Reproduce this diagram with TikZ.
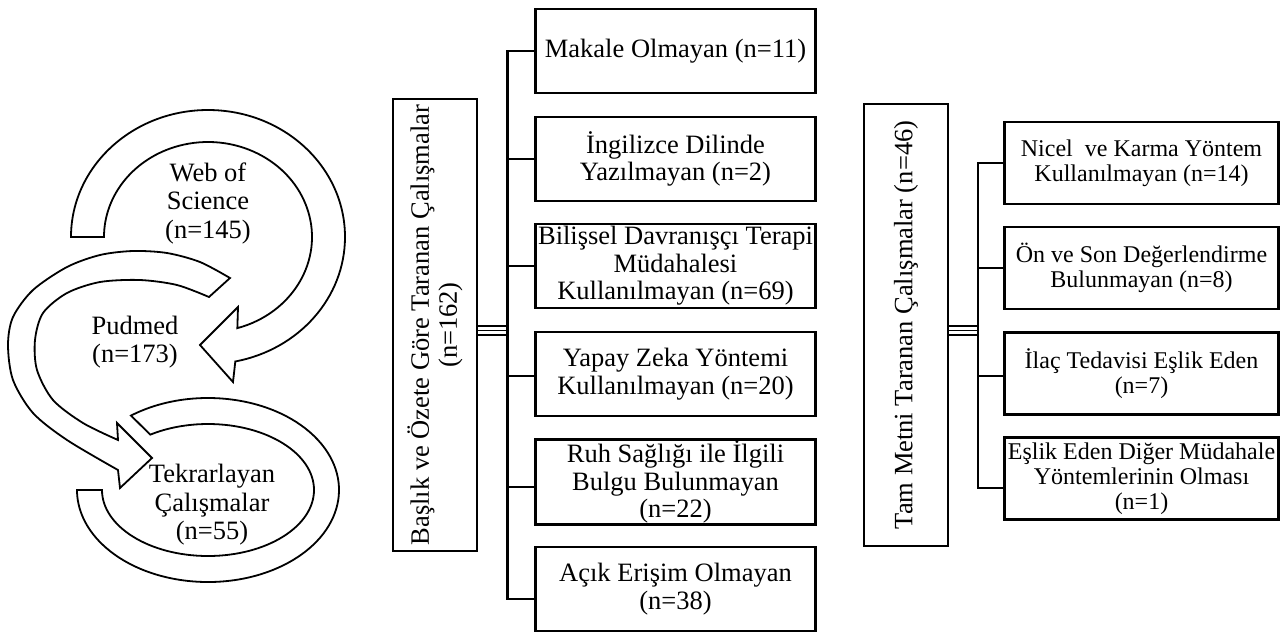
\documentclass[tikz,border=0pt]{standalone}
\usepackage{fontspec}
\setmainfont{Liberation Serif}
\usepackage{xcolor}
\usepackage{tikz}

\begin{document}
\begin{tikzpicture}[x=1pt,y=-1pt,
    flowarrow/.style={draw=black, fill=white, line width=1.8pt, line join=miter},
    circtext/.style={align=center, font=\fontsize{26.5}{28.5}\selectfont},
    tallbox/.style={draw=black, line width=2.8pt, rotate=90, minimum height=84pt, inner sep=1pt, align=center, font=\fontsize{26.5}{28}\selectfont},
    midbox/.style={draw=black, line width=2.8pt, minimum width=280.5pt, minimum height=84pt, inner sep=1pt, align=center, font=\fontsize{26.5}{27.5}\selectfont},
    sidebox/.style={draw=black, line width=2.8pt, minimum width=274.5pt, minimum height=82pt, inner sep=1pt, align=center, font=\fontsize{24}{25}\selectfont},
    link/.style={draw=black, line width=2.6pt},
    triple/.style={draw=black, line width=1.4pt}]
    \useasboundingbox (0,0) rectangle (1284,633);

    % databases
    \coordinate (wosc) at (208,237);
    \coordinate (tekc) at (208,490);
    \draw[flowarrow] ([shift={(-126:131 and 92)}]tekc) arc[start angle=-126, end angle=180, x radius=131, y radius=92] -- ([shift={(180:106 and 66)}]tekc) arc[start angle=180, end angle=-123, x radius=106, y radius=66] -- cycle;
    \draw[flowarrow] plot[smooth] coordinates {(230,278) (200,262) (167,253) (133,251) (100,255) (67,267) (33,290) (13,317) (8,345) (13,380) (33,413) (67,440) (118,470)} -- (120,488) -- (152,458) -- (117,423) -- plot[smooth] coordinates {(118,440) (83,423) (53,400) (37,370) (35,340) (43,313) (67,293) (100,282) (140,280) (177,285) (209,297)} -- cycle;
    \draw[flowarrow] ([shift={(-180:137 and 127)}]wosc) arc[start angle=-180, end angle=78.5, x radius=137, y radius=127] -- (233,382) -- (200,345) -- (238,307) -- ([shift={(73.6:104 and 95)}]wosc) arc[start angle=73.6, end angle=-180, x radius=104, y radius=95] -- cycle;

    \node[circtext] (wos) at (208,203) {Web of\\Science\\(n=145)};
    \node[circtext] (pud) at (135,342) {Pudmed\\(n=173)};
    \node[circtext] (tek) at (212,505) {Tekrarlayan\\Çalışmalar\\(n=55)};

    % title and abstract screening
    \node[tallbox, minimum width=452pt] (bas) at (435,325) {Başlık ve Özete Göre Taranan Çalışmalar\\(n=162)};
    \coordinate (mtrunk) at (507.5,325);
    \node[midbox] (mak) at (675.5,51) {Makale Olmayan (n=11)};
    \node[midbox] (ing) at (675.5,159) {İngilizce Dilinde\\Yazılmayan (n=2)};
    \node[midbox] (bil) at (675.5,266) {Bilişsel Davranışçı Terapi\\Müdahalesi\\Kullanılmayan (n=69)};
    \node[midbox] (yap) at (675.5,374) {Yapay Zeka Yöntemi\\Kullanılmayan (n=20)};
    \node[midbox] (ruh) at (675.5,482) {Ruh Sağlığı ile İlgili\\Bulgu Bulunmayan\\(n=22)};
    \node[midbox] (acik) at (675.5,589) {Açık Erişim Olmayan\\(n=38)};

    \draw[link] (mak.west) -- (mak.west -| mtrunk) -- ([yshift=-10pt]acik.west -| mtrunk) -- ([yshift=-10pt]acik.west);
    \draw[link] (ing.west) -- (ing.west -| mtrunk);
    \draw[link] (bil.west) -- (bil.west -| mtrunk);
    \draw[link] ([yshift=-2pt]yap.west) -- ([yshift=-2pt]yap.west -| mtrunk);
    \draw[link] ([yshift=-5pt]ruh.west) -- ([yshift=-5pt]ruh.west -| mtrunk);
    \draw[triple] ([yshift=-1pt]bas.south) -- ++(30.5,0);
    \draw[triple] ([yshift=-5.5pt]bas.south) -- ++(30.5,0);
    \draw[triple] ([yshift=-10pt]bas.south) -- ++(30.5,0);

    % full text screening
    \node[tallbox, minimum width=442pt] (tam) at (906,325) {Tam Metni Taranan Çalışmalar (n=46)};
    \coordinate (rtrunk) at (978,325);
    \node[sidebox] (nic) at (1141.5,163) {Nicel\ \ ve Karma Yöntem\\Kullanılmayan (n=14)};
    \node[sidebox] (onv) at (1141.5,268) {Ön ve Son Değerlendirme\\Bulunmayan (n=8)};
    \node[sidebox] (ilac) at (1141.5,373.5) {İlaç Tedavisi Eşlik Eden\\(n=7)};
    \node[sidebox] (esl) at (1141.5,478.5) {Eşlik Eden Diğer Müdahale\\Yöntemlerinin Olması\\(n=1)};

    \draw[link] (nic.west) -- (nic.west -| rtrunk) -- ([yshift=-9.5pt]esl.west -| rtrunk) -- ([yshift=-9.5pt]esl.west);
    \draw[link] (onv.west) -- (onv.west -| rtrunk);
    \draw[link] ([yshift=-2.5pt]ilac.west) -- ([yshift=-2.5pt]ilac.west -| rtrunk);
    \draw[triple] ([yshift=-1pt]tam.south) -- ++(30,0);
    \draw[triple] ([yshift=-5.5pt]tam.south) -- ++(30,0);
    \draw[triple] ([yshift=-10pt]tam.south) -- ++(30,0);

\end{tikzpicture}
\end{document}
